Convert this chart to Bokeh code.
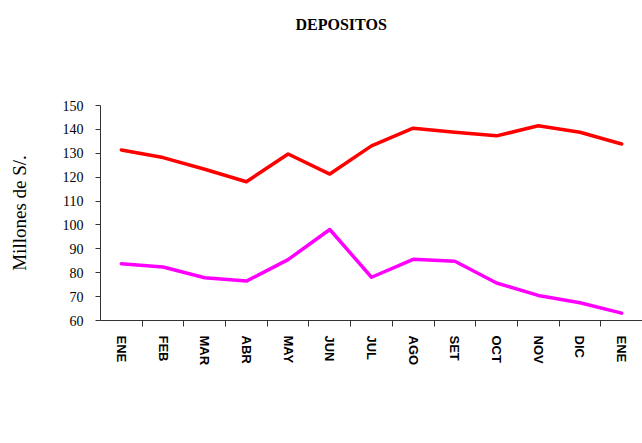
import math
from bokeh.plotting import figure
from bokeh.models import (FixedTicker, Legend, LegendItem, Title, Range1d,
                          ColumnDataSource, LinearAxis)
from bokeh.embed import file_html
from bokeh.resources import INLINE

months = ["ENE", "FEB", "MAR", "ABR", "MAY", "JUN", "JUL", "AGO", "SET", "OCT", "NOV", "DIC", "ENE"]
mn = [83.8, 82.4, 77.9, 76.5, 85.5, 98.1, 78.1, 85.6, 84.8, 75.7, 70.5, 67.4, 63.1]
me = [131.4, 128.2, 123.3, 118.1, 129.7, 121.3, 133.1, 140.5, 138.8, 137.3, 141.5, 138.8, 133.9]
y_ticks = [60, 70, 80, 90, 100, 110, 120, 130, 140, 150]

xs = list(range(1, len(months) + 1))
src = ColumnDataSource(dict(x=xs, mn=mn, me=me))

p = figure(frame_width=542, frame_height=215, output_backend="svg", toolbar_location=None,
           x_range=Range1d(0.5, len(months) + 0.5), y_range=Range1d(60, 150),
           min_border_left=100, min_border_right=0, min_border_top=105, min_border_bottom=0)
p.outline_line_color = None
p.grid.visible = False
p.background_fill_color = "white"
p.border_fill_color = "white"

xa = p.xaxis[0]
ya = p.yaxis[0]


def spacer_axis(size):
    # an invisible axis used only to reserve empty space in a side panel
    return LinearAxis(ticker=FixedTicker(ticks=[1]), major_label_overrides={1: ""},
                      major_tick_out=size, major_tick_in=0, major_label_standoff=0,
                      major_label_text_font_size="1px",
                      axis_line_color=None, major_tick_line_color=None,
                      minor_tick_line_color=None)


# title (spacer between frame and title first)
p.add_layout(spacer_axis(68), "above")
t = Title(text="DEPOSITOS", align="left", offset=195, text_font="Liberation Serif",
          text_font_size="16px", text_font_style="bold", text_color="black", standoff=10)
p.add_layout(t, "above")

r1 = p.line("x", "mn", source=src, line_color="#FF00FF", line_width=3.5,
            line_cap="round", line_join="round")
r2 = p.line("x", "me", source=src, line_color="#FF0000", line_width=3.5,
            line_cap="round", line_join="round")

xa.ticker = FixedTicker(ticks=xs, minor_ticks=[i + 0.5 for i in xs[:-1]])
xa.major_label_overrides = {i: m for i, m in zip(xs, months)}
xa.major_label_orientation = -math.pi / 2
xa.major_tick_in = 0
xa.major_tick_out = 0
xa.minor_tick_in = 0
xa.minor_tick_out = 6
xa.major_label_standoff = 9
xa.major_label_text_font = "Liberation Sans"
xa.major_label_text_font_size = "13px"
xa.major_label_text_font_style = "bold"
xa.major_label_text_color = "black"
xa.axis_line_color = "#333333"
xa.minor_tick_line_color = "#333333"

ya.ticker = FixedTicker(ticks=y_ticks)
ya.minor_tick_line_color = None
ya.major_tick_in = 0
ya.major_tick_out = 5
ya.major_label_standoff = 12
ya.major_label_text_font = "Liberation Serif"
ya.major_label_text_font_size = "14px"
ya.major_label_text_color = "black"
ya.axis_line_color = "#333333"
ya.major_tick_line_color = "#333333"
ya.axis_label = "Millones de S/."
ya.axis_label_text_font = "Liberation Serif"
ya.axis_label_text_font_size = "19px"
ya.axis_label_text_font_style = "normal"
ya.axis_label_text_color = "black"
ya.axis_label_standoff = 30

# spacer below the category labels, then the legend
p.add_layout(spacer_axis(56), "below")

legend = Legend(items=[LegendItem(label="M / N", renderers=[r1]),
                       LegendItem(label="M / E", renderers=[r2])],
                orientation="horizontal", location="top_center",
                label_text_font="Liberation Serif", label_text_font_size="17px",
                label_text_color="black",
                glyph_width=51, glyph_height=20, label_height=20, label_standoff=5,
                label_width=113, spacing=0,
                border_line_color=None, background_fill_alpha=0, padding=0, margin=0)
p.add_layout(legend, "below")

open("out.html", "w").write(file_html(p, INLINE))
